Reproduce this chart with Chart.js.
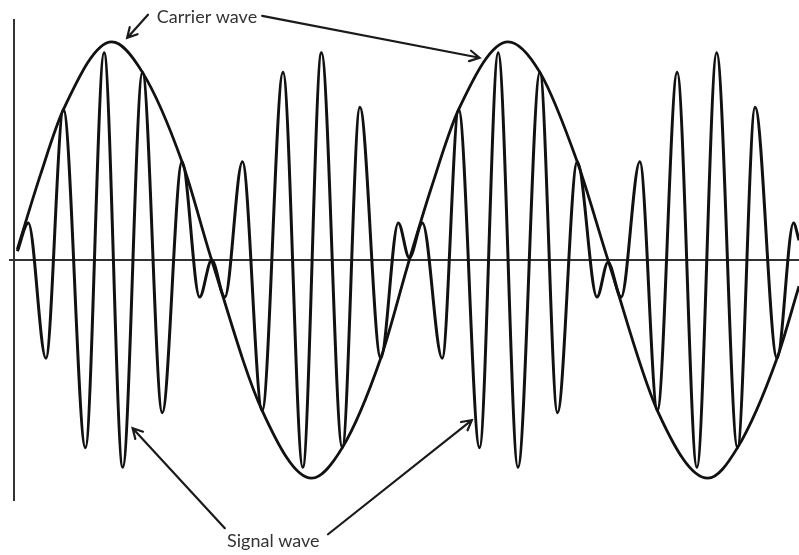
<!DOCTYPE html>
<html>
<head>
<meta charset="utf-8">
<title>Carrier wave and signal wave</title>
<script src="https://cdn.jsdelivr.net/npm/chart.js@4.4.1/dist/chart.umd.min.js"></script>
<style>
  html, body { margin: 0; padding: 0; background: #fff; }
  #wrap { position: relative; width: 799px; height: 555px; }
</style>
</head>
<body>
<div id="wrap"><canvas id="waveChart"></canvas></div>
<script>
// x = phase of the carrier in degrees, y = amplitude relative to carrier peak
const carrierPhase = [3, 24, 45, 89, 117, 153, 180, 226, 271, 299, 334, 360,
    380, 405, 450, 479, 513, 541, 586, 632, 659, 695, 715];
const carrierAmp = [0.05, 0.39, 0.69, 1.00, 0.86, 0.45, 0, -0.69, -1.00, -0.86, -0.45, 0,
    0.33, 0.69, 1.00, 0.86, 0.45, 0, -0.69, -1.00, -0.86, -0.45, -0.12];

const signalPhase = [3, 13, 29, 45, 65, 82, 99, 117, 135, 153, 169, 180, 192, 208, 226,
    245, 263, 280, 299, 315, 334, 350, 360, 372, 390, 405, 424, 441, 459, 479, 495,
    513, 531, 541, 553, 570, 586, 604, 622, 640, 659, 675, 695, 710, 715];
const signalAmp = [0.04, 0.17, -0.45, 0.69, -0.86, 0.95, -0.95, 0.86, -0.70, 0.45, -0.17, 0, -0.17, 0.45, -0.69,
    0.86, -0.95, 0.95, -0.86, 0.70, -0.45, 0.17, 0.01, 0.17, -0.45, 0.69, -0.86, 0.95, -0.95, 0.86, -0.70,
    0.45, -0.17, -0.01, -0.17, 0.45, -0.69, 0.86, -0.95, 0.95, -0.86, 0.70, -0.45, 0.17, 0.09];

// callout labels, in the same phase / amplitude units as the data
const labelText = ['Carrier wave', 'Signal wave'];
const labelPos = [[130, 1.115], [194, -1.29]];
const labelArrows = [
    [[122, 1.124, 103, 1.018], [226, 1.119, 424, 0.927]],
    [[192, -1.229, 108, -0.771], [286, -1.257, 417, -0.734]]
];

const lineColor = '#111';

function toPoints(xs, ys) {
    return xs.map((x, i) => ({ x: x, y: ys[i] }));
}

/**
 * Open arrow from tail to tip
 */
function drawArrow(ctx, x1, y1, x2, y2) {
    const ang = Math.atan2(y2 - y1, x2 - x1);
    const head = 11;
    ctx.beginPath();
    ctx.moveTo(x1, y1);
    ctx.lineTo(x2, y2);
    ctx.moveTo(x2 - head * Math.cos(ang - 0.5), y2 - head * Math.sin(ang - 0.5));
    ctx.lineTo(x2, y2);
    ctx.lineTo(x2 - head * Math.cos(ang + 0.5), y2 - head * Math.sin(ang + 0.5));
    ctx.stroke();
}

const calloutPlugin = {
    id: 'callouts',
    afterDraw(chart) {
        const ctx = chart.ctx;
        const xs = chart.scales.x;
        const ys = chart.scales.y;
        ctx.save();
        ctx.font = '18px Lato';
        ctx.fillStyle = '#333';
        ctx.textAlign = 'left';
        ctx.textBaseline = 'middle';
        ctx.strokeStyle = '#1a1a1a';
        ctx.lineWidth = 2.2;
        ctx.lineCap = 'round';
        labelText.forEach((txt, i) => {
            ctx.fillText(txt, xs.getPixelForValue(labelPos[i][0]), ys.getPixelForValue(labelPos[i][1]));
            labelArrows[i].forEach(a => {
                drawArrow(ctx,
                    xs.getPixelForValue(a[0]), ys.getPixelForValue(a[1]),
                    xs.getPixelForValue(a[2]), ys.getPixelForValue(a[3]));
            });
        });
        ctx.restore();
    }
};

new Chart(document.getElementById('waveChart'), {
    type: 'line',
    data: {
        datasets: [{
            label: 'Carrier wave',
            data: toPoints(carrierPhase, carrierAmp),
            borderColor: lineColor,
            borderWidth: 2.8,
            pointRadius: 0,
            cubicInterpolationMode: 'monotone'
        }, {
            label: 'Signal wave',
            data: toPoints(signalPhase, signalAmp),
            borderColor: lineColor,
            borderWidth: 3,
            pointRadius: 0,
            cubicInterpolationMode: 'monotone'
        }]
    },
    options: {
        responsive: true,
        maintainAspectRatio: false,
        animation: false,
        layout: { padding: { left: 10, right: 0, top: 20, bottom: 55 } },
        plugins: {
            legend: { display: false },
            tooltip: { enabled: false }
        },
        scales: {
            x: {
                type: 'linear',
                min: -3.7,
                max: 715,
                position: { y: 0 },
                ticks: { display: false },
                grid: { display: false, drawTicks: false },
                border: { display: true, color: '#333', width: 2 }
            },
            y: {
                min: -1.1,
                max: 1.1,
                position: { x: 0 },
                ticks: { display: false },
                grid: { display: false, drawTicks: false },
                border: { display: true, color: '#333', width: 2 }
            }
        }
    },
    plugins: [calloutPlugin]
});
</script>
</body>
</html>
